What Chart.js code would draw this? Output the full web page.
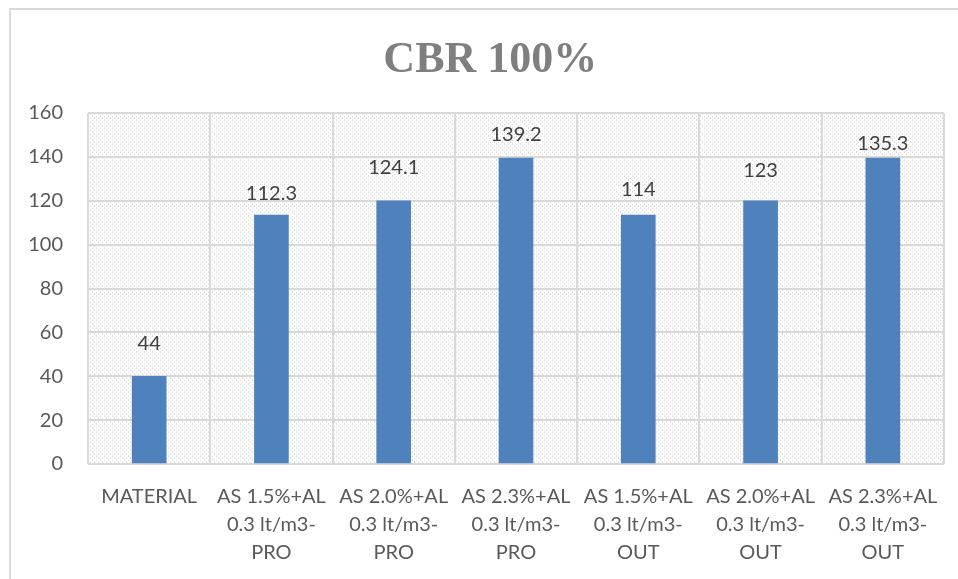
<!DOCTYPE html>
<html>
<head>
<meta charset="utf-8">
<script src="https://cdn.jsdelivr.net/npm/chart.js@4"></script>
<style>
  html, body { margin: 0; padding: 0; background: #fff; }
  #wrap { width: 958px; height: 579px; }
</style>
</head>
<body>
<div id="wrap"><canvas id="cbrChart" width="958" height="579"></canvas></div>
<script>
const chartTitle = 'CBR 100%';
const categories = [
    'MATERIAL',
    ['AS 1.5%+AL', '0.3 lt/m3-', 'PRO'],
    ['AS 2.0%+AL', '0.3 lt/m3-', 'PRO'],
    ['AS 2.3%+AL', '0.3 lt/m3-', 'PRO'],
    ['AS 1.5%+AL', '0.3 lt/m3-', 'OUT'],
    ['AS 2.0%+AL', '0.3 lt/m3-', 'OUT'],
    ['AS 2.3%+AL', '0.3 lt/m3-', 'OUT']
];
// bar heights as drawn
const barValues = [40, 113.5, 120, 139.5, 113.5, 120, 139.5];
// value labels as printed above the bars
const valueLabels = ['44', '112.3', '124.1', '139.2', '114', '123', '135.3'];
const yTicks = [0, 20, 40, 60, 80, 100, 120, 140, 160];

const textFont = 'Lato, "Open Sans", sans-serif';

// light grey dotted pattern for the plot area
function makePattern() {
    const c = document.createElement('canvas');
    c.width = 8; c.height = 8;
    const g = c.getContext('2d');
    g.fillStyle = '#ffffff';
    g.fillRect(0, 0, 8, 8);
    g.fillStyle = '#dcdcdc';
    for (let y = 0; y < 8; y++) {
        for (let x = 0; x < 8; x++) {
            const d = (x - y + 8) % 8;
            if (d === 0 && y % 2 === 0) g.fillRect(x, y, 1, 1);
            if (d === 1 && y % 2 === 1) g.fillRect(x, y, 1, 1);
            if (d === 4 && (x + y) % 4 === 0) g.fillRect(x, y, 1, 1);
        }
    }
    return g.createPattern(c, 'repeat');
}

const chartDecor = {
    id: 'chartDecor',
    beforeDraw(chart) {
        const ctx = chart.ctx;
        const a = chart.chartArea;
        ctx.save();
        ctx.strokeStyle = '#d9d9d9';
        ctx.lineWidth = 2;
        ctx.strokeRect(10, 9, 1000, 1000);
        ctx.fillStyle = makePattern();
        ctx.fillRect(a.left, a.top, a.right - a.left, a.bottom - a.top);
        // title
        ctx.font = 'bold 44px "Liberation Serif", serif';
        ctx.fillStyle = '#7f7f7f';
        ctx.textAlign = 'center';
        ctx.textBaseline = 'alphabetic';
        ctx.fillText(chartTitle, a.left + (a.right - a.left) * 0.47, 72);
        ctx.restore();
    },
    afterDatasetsDraw(chart) {
        const ctx = chart.ctx;
        const y = chart.scales.y;
        const meta = chart.getDatasetMeta(0);
        ctx.save();
        ctx.font = '20px ' + textFont;
        ctx.fillStyle = '#404040';
        ctx.textAlign = 'center';
        ctx.textBaseline = 'middle';
        meta.data.forEach((bar, i) => {
            const v = parseFloat(valueLabels[i]);
            ctx.fillText(valueLabels[i], bar.x, y.getPixelForValue(v) - 24);
        });
        ctx.restore();
    }
};

const ctx1 = document.getElementById('cbrChart').getContext('2d');
new Chart(ctx1, {
    type: 'bar',
    data: {
        labels: categories,
        datasets: [{
            label: chartTitle,
            data: barValues,
            backgroundColor: '#4f81bd',
            barThickness: 34
        }]
    },
    options: {
        responsive: false,
        animation: false,
        layout: { padding: { left: 0, right: 14, top: 113, bottom: 0 } },
        plugins: {
            legend: { display: false },
            tooltip: { enabled: false },
            title: { display: false }
        },
        scales: {
            x: {
                grid: { color: '#d9d9d9', lineWidth: 2, drawTicks: false, offset: true },
                border: { display: false },
                ticks: {
                    color: '#595959',
                    font: { family: textFont, size: 20, lineHeight: 1.4 },
                    padding: 19,
                    maxRotation: 0,
                    autoSkip: false
                },
                afterFit(scale) { scale.height = 115; }
            },
            y: {
                min: 0,
                max: 160,
                afterBuildTicks(scale) { scale.ticks = yTicks.map(v => ({ value: v })); },
                grid: { color: '#d9d9d9', lineWidth: 2, drawTicks: false },
                border: { display: false },
                ticks: {
                    color: '#595959',
                    font: { family: textFont, size: 20 },
                    padding: 25
                },
                afterFit(scale) { scale.width = 88; }
            }
        }
    },
    plugins: [chartDecor]
});
</script>
</body>
</html>
